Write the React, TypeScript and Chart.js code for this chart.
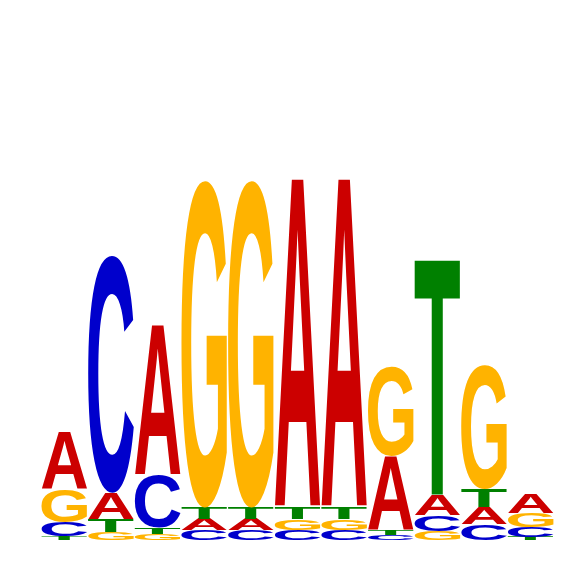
import React, { useEffect, useRef } from "react";
import { Chart, registerables } from "chart.js";

Chart.register(...registerables);

// Sequence logo: information content (bits) of each base at each position
const positions = ["1", "2", "3", "4", "5", "6", "7", "8", "9", "10", "11"];
const bases = ["A", "C", "G", "T"];
const heightA = [0.219, 0.1, 0.574, 0.042, 0.042, 1.26, 1.26, 0.281, 0.077, 0.065, 0.075];
const heightC = [0.054, 0.909, 0.2, 0.038, 0.038, 0.038, 0.038, 0.018, 0.062, 0.062, 0.038];
const heightG = [0.127, 0.031, 0.023, 1.254, 1.254, 0.042, 0.042, 0.341, 0.035, 0.474, 0.054];
const heightT = [0.015, 0.05, 0.024, 0.044, 0.044, 0.044, 0.044, 0.02, 0.905, 0.069, 0.012];
const baseColors: Record<string, string> = {
  A: "#CC0000",
  C: "#0000CC",
  G: "#FFB300",
  T: "#008000",
};

const letterPlugin = {
  id: "logoLetters",
  afterDatasetsDraw(chart: any) {
    const ctx: CanvasRenderingContext2D = chart.ctx;
    chart.data.datasets.forEach((ds: any, di: number) => {
      const meta = chart.getDatasetMeta(di);
      meta.data.forEach((el: any, i: number) => {
        const letter = ds.letters[i];
        const val = ds.data[i];
        if (!letter || !val) return;
        const left = el.x - el.width / 2 + 0.5;
        const right = el.x + el.width / 2 - 0.5;
        const top = Math.min(el.y, el.base);
        const bottom = Math.max(el.y, el.base);
        const w = right - left;
        const h = bottom - top;
        if (w <= 0 || h <= 0.2) return;
        ctx.save();
        ctx.font = 'bold 200px "Liberation Sans", Arial, sans-serif';
        ctx.textAlign = "left";
        ctx.textBaseline = "alphabetic";
        const m = ctx.measureText(letter);
        const gw = m.actualBoundingBoxLeft + m.actualBoundingBoxRight;
        const gh = m.actualBoundingBoxAscent + m.actualBoundingBoxDescent;
        ctx.translate(left, top);
        ctx.scale(w / gw, h / gh);
        ctx.fillStyle = baseColors[letter];
        ctx.fillText(letter, m.actualBoundingBoxLeft, m.actualBoundingBoxAscent);
        ctx.restore();
      });
    });
  },
};

export default function App() {
  const ref = useRef<HTMLCanvasElement | null>(null);

  useEffect(() => {
    if (!ref.current) return;
    const table: Record<string, number[]> = { A: heightA, C: heightC, G: heightG, T: heightT };
    // Build rank-ordered stacks: smallest at the bottom, largest on top
    const ranks = bases.map(() => ({ data: [] as number[], letters: [] as string[] }));
    positions.forEach((_, i) => {
      const sorted = bases
        .map((b) => ({ b, v: table[b][i] }))
        .sort((p, q) => p.v - q.v);
      sorted.forEach((s, r) => {
        ranks[r].data.push(s.v);
        ranks[r].letters.push(s.b);
      });
    });
    const chart = new Chart(ref.current, {
      type: "bar",
      data: {
        labels: positions,
        datasets: ranks.map((r, k) => ({
          label: "rank" + k,
          data: r.data,
          letters: r.letters,
          backgroundColor: "rgba(0,0,0,0)",
          borderWidth: 0,
          barPercentage: 1,
          categoryPercentage: 1,
        })) as any,
      },
      options: {
        responsive: false,
        animation: false,
        layout: { padding: { left: 41, right: 12, top: 18, bottom: 26 } },
        plugins: { legend: { display: false }, tooltip: { enabled: false } },
        scales: {
          x: { stacked: true, display: false },
          y: { stacked: true, display: false, min: 0, max: 2 },
        },
      },
      plugins: [letterPlugin],
    });
    return () => chart.destroy();
  }, []);

  return (
    <div style={{ position: "fixed", left: 0, top: 0, width: 566, height: 566, background: "#fff" }}>
      <canvas ref={ref} width={566} height={566} />
    </div>
  );
}
